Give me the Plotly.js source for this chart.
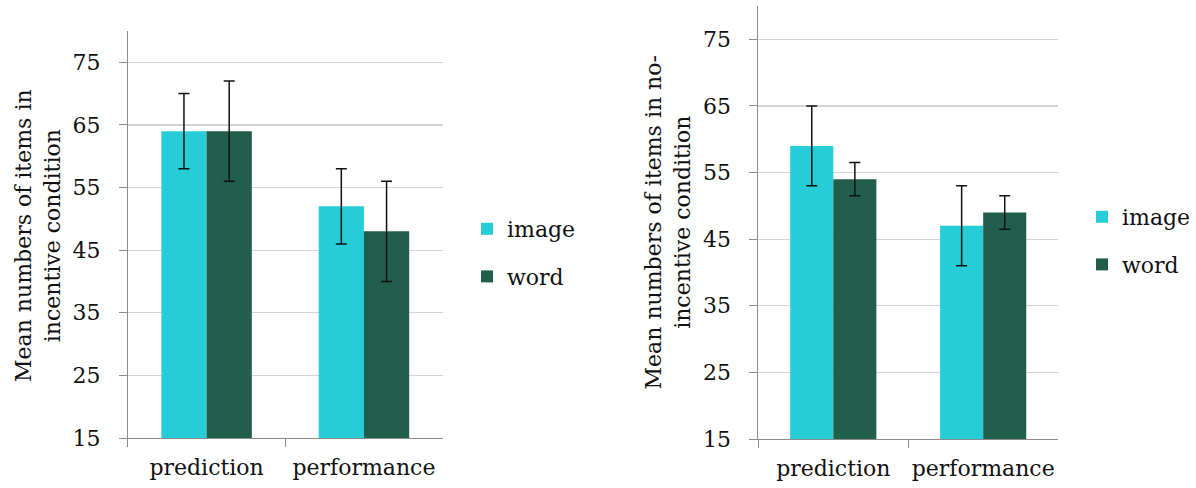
<!DOCTYPE html>
<html>
<head>
<meta charset="utf-8">
<script src="https://cdn.plot.ly/plotly-3.0.1.min.js"></script>
<style>html,body{margin:0;padding:0;background:#fff;}#chart{width:1196px;height:488px;}</style>
</head>
<body>
<div id="chart"></div>
<script>
const categories = ['prediction', 'performance'];
const seriesNames = ['image', 'word'];
// Left panel: incentive condition
const incentiveImage = [64, 52];
const incentiveImageErr = [6, 6];
const incentiveWord = [64, 48];
const incentiveWordErr = [8, 8];
// Right panel: no-incentive condition
const noIncentiveImage = [59, 47];
const noIncentiveImageErr = [6, 6];
const noIncentiveWord = [54, 49];
const noIncentiveWordErr = [2.5, 2.5];
const yTickVals = [15, 25, 35, 45, 55, 65, 75];
const leftTitle = 'Mean numbers of items in<br>incentive condition';
const rightTitle = 'Mean numbers of items in no-<br>incentive condition';

const colors = ['#27CDD6', '#215E4C'];
const FONT = 'DejaVu Serif, serif';

function bar(name, y, err, color, xa, ya, legend) {
  return {
    type: 'bar', name: name, x: categories, y: y,
    xaxis: xa, yaxis: ya, legend: legend, legendgroup: name + legend,
    marker: {color: color, line: {width: 0}},
    error_y: {type: 'data', array: err, visible: true, color: '#111', thickness: 1.5, width: 5.5}
  };
}

const data = [
  bar(seriesNames[0], incentiveImage, incentiveImageErr, colors[0], 'x', 'y', 'legend'),
  bar(seriesNames[1], incentiveWord, incentiveWordErr, colors[1], 'x', 'y', 'legend'),
  bar(seriesNames[0], noIncentiveImage, noIncentiveImageErr, colors[0], 'x2', 'y2', 'legend2'),
  bar(seriesNames[1], noIncentiveWord, noIncentiveWordErr, colors[1], 'x2', 'y2', 'legend2')
];

const W = 1196, H = 488;
function xaxis(d, anchor) {
  return {
    domain: d, anchor: anchor, type: 'category', categoryarray: categories,
    tickson: 'boundaries', ticks: 'outside', ticklen: 8, tickcolor: '#8c8c8c', tickwidth: 1,
    showline: true, linecolor: '#8c8c8c', linewidth: 1, showgrid: false, tickangle: 0,
    tickfont: {family: FONT, size: 22, color: '#111'}, ticklabelstandoff: 10
  };
}
function yaxis(d, anchor) {
  return {
    domain: d, anchor: anchor, range: [15, 80], tickvals: yTickVals, ticks: 'outside', ticklen: 8,
    tickcolor: '#8c8c8c', showline: true, linecolor: '#8c8c8c', linewidth: 1,
    showgrid: true, gridcolor: '#d4d4d4', gridwidth: 1.2, zeroline: false,
    tickfont: {family: FONT, size: 22, color: '#111'}, ticklabelstandoff: 14
  };
}
function yTitle(text, xpx, ypx) {
  return {
    text: text, xref: 'paper', yref: 'paper', x: xpx / W, y: (H - ypx) / H,
    xanchor: 'center', yanchor: 'middle', textangle: -90, showarrow: false,
    font: {family: FONT, size: 22, color: '#111'}
  };
}

const layout = {
  width: W, height: H,
  margin: {l: 0, r: 0, t: 0, b: 0},
  paper_bgcolor: '#fff', plot_bgcolor: '#fff',
  barmode: 'group', bargap: 0.425, bargroupgap: 0,
  showlegend: true,
  xaxis: xaxis([128 / W, 443 / W], 'y'),
  yaxis: yaxis([(H - 438) / H, (H - 31) / H], 'x'),
  xaxis2: xaxis([759 / W, 1059 / W], 'y2'),
  yaxis2: yaxis([(H - 439) / H, (H - 6) / H], 'x2'),
  annotations: [yTitle(leftTitle, 38, 235), yTitle(rightTitle, 669, 222)],
  legend: {x: 467 / W, y: (H - 253) / H, xanchor: 'left', yanchor: 'middle',
    traceorder: 'grouped', tracegroupgap: 16,
    font: {family: FONT, size: 22, color: '#111'}, bgcolor: 'rgba(0,0,0,0)'},
  legend2: {x: 1083 / W, y: (H - 241) / H, xanchor: 'left', yanchor: 'middle',
    traceorder: 'grouped', tracegroupgap: 16,
    font: {family: FONT, size: 22, color: '#111'}, bgcolor: 'rgba(0,0,0,0)'}
};

Plotly.newPlot('chart', data, layout, {displayModeBar: false, staticPlot: true});
</script>
</body>
</html>
